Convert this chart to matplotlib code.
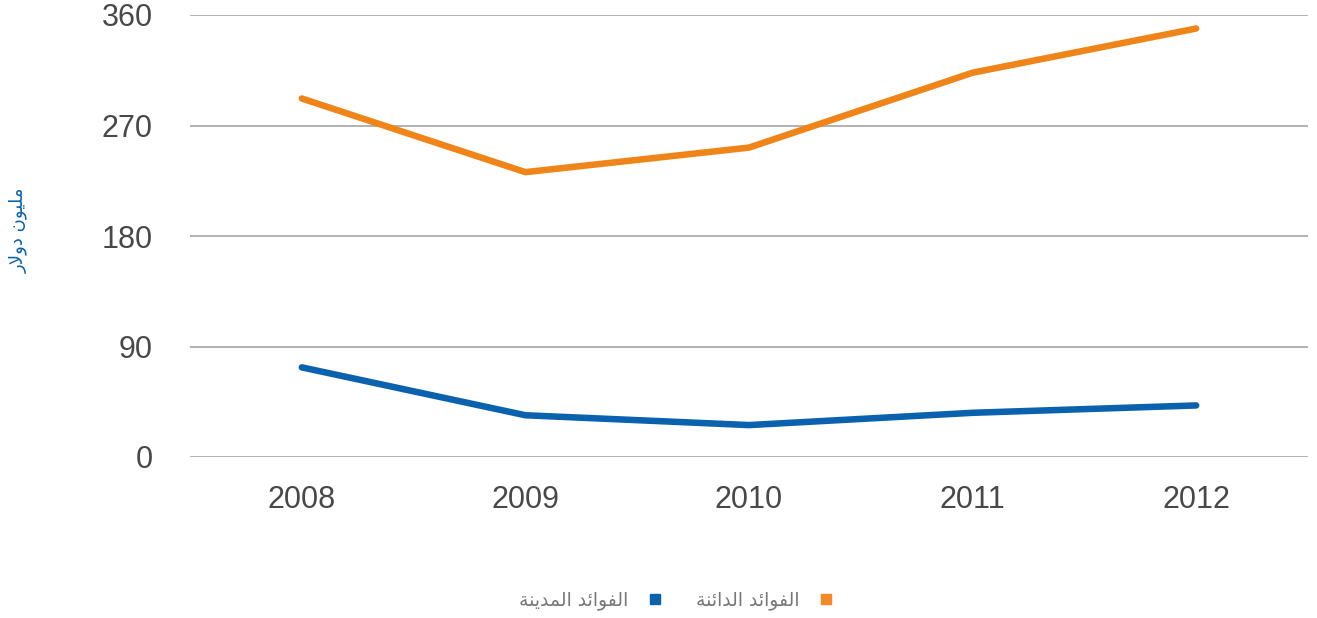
import matplotlib
matplotlib.use("Agg")
import matplotlib.pyplot as plt
from matplotlib.lines import Line2D

years = ["2008", "2009", "2010", "2011", "2012"]
credit_interest = [292, 232, 252, 313, 349]   # الفوائد الدائنة
debit_interest = [73, 34, 26, 36, 42]         # الفوائد المدينة
y_ticks = [0, 90, 180, 270, 360]

label_credit = "الفوائد الدائنة"
label_debit = "الفوائد المدينة"
y_label = "مليون دولار"

ORANGE = "#ef8419"
BLUE = "#0a61ad"

# matplotlib has no arabic shaping, so pick presentation forms by hand
# letter: (isolated, final, initial, medial); None = no join to next letter
FORMS = {
    "ا": ("\uFE8D", "\uFE8E", None, None),
    "ل": ("\uFEDD", "\uFEDE", "\uFEDF", "\uFEE0"),
    "ف": ("\uFED1", "\uFED2", "\uFED3", "\uFED4"),
    "و": ("\uFEED", "\uFEEE", None, None),
    "ئ": ("\uFE89", "\uFE8A", "\uFE8B", "\uFE8C"),
    "د": ("\uFEA9", "\uFEAA", None, None),
    "ن": ("\uFEE5", "\uFEE6", "\uFEE7", "\uFEE8"),
    "ة": ("\uFE93", "\uFE94", None, None),
    "م": ("\uFEE1", "\uFEE2", "\uFEE3", "\uFEE4"),
    "ي": ("\uFEF1", "\uFEF2", "\uFEF3", "\uFEF4"),
    "ر": ("\uFEAD", "\uFEAE", None, None),
}
LAM_ALEF = ("\uFEFB", "\uFEFC")


def joins_left(ch):
    return ch in FORMS and FORMS[ch][2] is not None


def shape(text):
    out = []
    i = 0
    while i < len(text):
        ch = text[i]
        prev = text[i - 1] if i > 0 else ""
        nxt = text[i + 1] if i + 1 < len(text) else ""
        if ch not in FORMS:
            out.append(ch)
            i += 1
            continue
        from_prev = joins_left(prev)
        if ch == "ل" and nxt == "ا":
            out.append(LAM_ALEF[1] if from_prev else LAM_ALEF[0])
            i += 2
            continue
        to_next = joins_left(ch) and nxt in FORMS
        iso, fin, ini, med = FORMS[ch]
        if from_prev and to_next:
            out.append(med)
        elif from_prev:
            out.append(fin)
        elif to_next:
            out.append(ini)
        else:
            out.append(iso)
        i += 1
    return "".join(reversed(out))


plt.rcParams["font.family"] = ["Liberation Sans", "DejaVu Sans"]

fig = plt.figure(figsize=(13.17, 6.18), dpi=100)
ax = fig.add_axes([190 / 1317, 1 - 457 / 618, 1118 / 1317, 442 / 618])

x = range(len(years))
ax.plot(x, credit_interest, color=ORANGE, lw=4.7, solid_capstyle="round", solid_joinstyle="round", zorder=3)
ax.plot(x, debit_interest, color=BLUE, lw=4.7, solid_capstyle="round", solid_joinstyle="round", zorder=3)

ax.set_xlim(-0.5, len(years) - 0.5)
ax.set_ylim(0, 360)
ax.set_yticks(y_ticks)
ax.set_xticks(list(x))
ax.set_xticklabels(years)
ax.yaxis.grid(True, color="#ababab", lw=1.3)
ax.set_axisbelow(True)
for s in ax.spines.values():
    s.set_visible(False)
ax.tick_params(length=0, labelsize=22, labelcolor="#484848")
ax.tick_params(axis="y", pad=27)
ax.tick_params(axis="x", pad=20)

fig.text(18 / 1317, 1 - 230 / 618, shape(y_label), rotation=90, ha="center", va="center",
         color=BLUE, fontsize=13, family="DejaVu Sans")

handles = [
    Line2D([], [], ls="none", marker="s", ms=7, color=BLUE),
    Line2D([], [], ls="none", marker="s", ms=7, color="#f5892a"),
]
leg = fig.legend(handles, [shape(label_debit), shape(label_credit)], ncol=2, markerfirst=False,
                 loc="center", bbox_to_anchor=(676 / 1317, 1 - 600 / 618), frameon=False,
                 prop={"family": "DejaVu Sans", "size": 13.5}, handletextpad=1.0, columnspacing=1.8,
                 handlelength=0.8)
for t in leg.get_texts():
    t.set_color("#777777")

fig.savefig("out.png", dpi=100)
